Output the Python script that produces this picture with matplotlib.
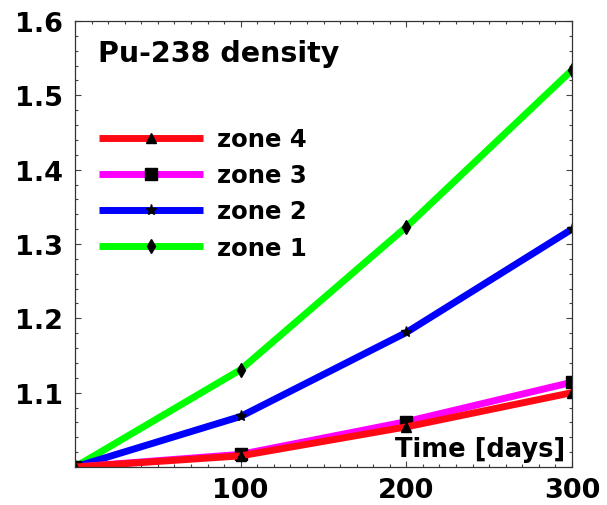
import matplotlib
matplotlib.use("Agg")
import matplotlib.pyplot as plt
from matplotlib.ticker import MultipleLocator, FixedLocator

# data
days = [0, 100, 200, 300]
zone1 = [1.0, 1.131, 1.323, 1.534]
zone2 = [1.0, 1.068, 1.181, 1.320]
zone3 = [1.0, 1.017, 1.061, 1.114]
zone4 = [1.0, 1.015, 1.054, 1.100]

x_ticks = [100, 200, 300]
y_ticks = [1.1, 1.2, 1.3, 1.4, 1.5, 1.6]

plt.rcParams['font.family'] = ['DejaVu Sans']
plt.rcParams['font.weight'] = 'bold'

fig = plt.figure(figsize=(6.07, 5.06), dpi=100)
ax = fig.add_axes([75 / 607, 1 - 468 / 506, 497 / 607, 446 / 506])

lw = 5
series = [
    (zone1, '#00ff00', 'd', 7, 'zone 1'),
    (zone2, '#0000ff', '*', 8, 'zone 2'),
    (zone3, '#ff00ff', 's', 9, 'zone 3'),
    (zone4, '#ff0a14', '^', 7, 'zone 4'),
]
handles = {}
for vals, col, mk, ms, lab in series:
    h, = ax.plot(days, vals, color=col, lw=lw, marker=mk, ms=ms,
                 mfc='black', mec='black', label=lab, solid_capstyle='butt')
    handles[lab] = h

ax.set_xlim(0, 300)
ax.set_ylim(1.0, 1.6)
ax.xaxis.set_major_locator(FixedLocator(x_ticks))
ax.yaxis.set_major_locator(FixedLocator(y_ticks))
ax.xaxis.set_minor_locator(MultipleLocator(10))
ax.yaxis.set_minor_locator(MultipleLocator(0.02))
ax.set_xticklabels([str(v) for v in x_ticks])
ax.set_yticklabels([f"{v:.1f}" for v in y_ticks])

ax.tick_params(which='both', direction='in', top=True, right=True,
               labeltop=False, labelright=False, color='#444444', width=0.8)
ax.tick_params(which='major', length=4)
ax.tick_params(which='minor', length=2.5)
ax.tick_params(axis='y', which='major', pad=8.5, labelsize=19.5)
ax.tick_params(axis='x', which='major', pad=7, labelsize=19.5)
for lbl in ax.get_xticklabels() + ax.get_yticklabels():
    lbl.set_fontweight('bold')
for sp in ax.spines.values():
    sp.set_linewidth(0.9)
    sp.set_color('#333333')

ax.text(0.046, 0.91, 'Pu-238 density', transform=ax.transAxes,
        fontsize=20.5, fontweight='bold', va='baseline', ha='left')
ax.text(0.986, 0.025, 'Time [days]', transform=ax.transAxes,
        fontsize=18.5, fontweight='bold', va='baseline', ha='right')

order = ['zone 4', 'zone 3', 'zone 2', 'zone 1']
leg = ax.legend([handles[k] for k in order], order, loc='upper left',
                bbox_to_anchor=(0.048, 0.762), frameon=False, fontsize=17.5,
                handlelength=4.28, handletextpad=0.58, labelspacing=0.5,
                borderaxespad=0.0, borderpad=0.0)
for t in leg.get_texts():
    t.set_fontweight('bold')

fig.savefig('out.png', dpi=100)
